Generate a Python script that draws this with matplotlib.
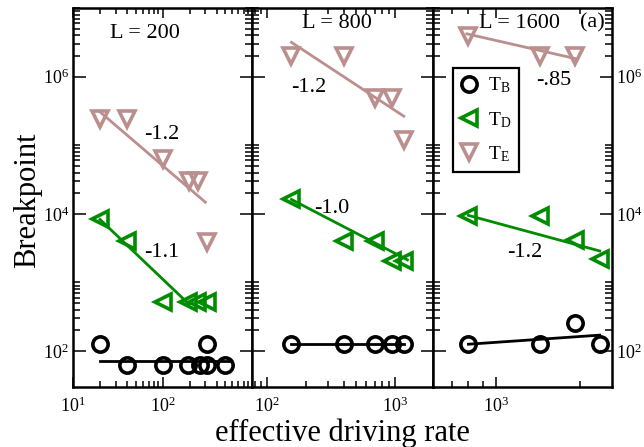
import numpy as np
import matplotlib
matplotlib.use('Agg')
from matplotlib import pyplot as plt, ticker

plt.rcParams['font.family'] = ['Liberation Serif', 'DejaVu Serif']
plt.rcParams['mathtext.fontset'] = 'custom'
plt.rcParams['mathtext.rm'] = 'Liberation Serif'
plt.rcParams['mathtext.it'] = 'Liberation Serif:italic'

# Colours of the three breakpoints
c_B = 'black'
c_D = '#008c00'
c_E = '#bc8f8f'

# ---- L = 200 ----
x200_B = [20, 40, 100, 190, 260, 310, 310, 500]
y200_B = [126, 63, 63, 63, 63, 126, 63, 63]
x200_D = [20, 40, 100, 190, 245, 310]
y200_D = [8500, 4000, 516, 516, 516, 516]
x200_E = [20, 40, 100, 195, 250, 310]
y200_E = [245000, 245000, 64000, 30000, 30000, 3900]
fit200_B = ([20, 580], [72, 72])
fit200_D = ([20, 197], [8300, 483])
fit200_E = ([20, 300], [306000, 14800])

# ---- L = 800 ----
x800 = [155, 400, 700, 960, 1180]
y800_B = [126, 126, 126, 126, 126]
y800_D = [16600, 4000, 4000, 2060, 2060]
y800_E = [1.97e6, 1.97e6, 4.9e5, 4.9e5, 1.21e5]
fit800_B = ([155, 1180], [126, 126])
fit800_D = ([155, 1260], [16200, 2140])
fit800_E = ([155, 1180], [3.16e6, 2.65e5])

# ---- L = 1600 ----
x1600 = [800, 1440, 1920, 2350]
y1600_B = [126, 126, 261, 126]
y1600_D = [9290, 9290, 4160, 2180]
x1600_E = [800, 1440, 1920]
y1600_E = [3.95e6, 1.97e6, 1.97e6]
fit1600_B = ([800, 2350], [126, 171])
fit1600_D = ([800, 2350], [9500, 2880])
fit1600_E = ([790, 1960], [4.2e6, 1.8e6])

xlims = [(10, 995), (76, 2000), (598, 2600)]
ylim = (30, 1e7)

panels = [
    dict(B=(x200_B, y200_B), D=(x200_D, y200_D), E=(x200_E, y200_E),
         fits=(fit200_B, fit200_D, fit200_E), title='L = 200', tx=0.402, ty=0.934,
         notes=[('-1.2', 0.497, 0.665), ('-1.1', 0.497, 0.356)]),
    dict(B=(x800, y800_B), D=(x800, y800_D), E=(x800, y800_E),
         fits=(fit800_B, fit800_D, fit800_E), title='L = 800', tx=0.47, ty=0.96,
         notes=[('-1.2', 0.315, 0.789), ('-1.0', 0.442, 0.472)]),
    dict(B=(x1600, y1600_B), D=(x1600, y1600_D), E=(x1600_E, y1600_E),
         fits=(fit1600_B, fit1600_D, fit1600_E), title='L = 1600', tx=0.486, ty=0.96,
         notes=[('-.85', 0.676, 0.81), ('-1.2', 0.514, 0.356), ('(a)', 0.888, 0.96)]),
]

W, H = 644, 447
fig = plt.figure(figsize=(W / 100, H / 100), dpi=100)

lefts = [73, 252, 433]
rights = [252, 433, 612]
bottom, top = 387, 8

# minor y ticks every two decades, as in the original
ymin_ticks = [k * 10.0 ** e for e in (0, 2, 4, 6) for k in range(2, 11)]

mk = dict(linestyle='none', mfc='none', mew=2.6)
axes = []
for i, p in enumerate(panels):
    ax = fig.add_axes([lefts[i] / W, 1 - bottom / H,
                       (rights[i] - lefts[i]) / W, (bottom - top) / H])
    axes.append(ax)
    ax.set_xscale('log')
    ax.set_yscale('log')

    for (fx, fy), col in zip(p['fits'], (c_B, c_D, c_E)):
        ax.plot(fx, fy, color=col, lw=2.0)
    ax.plot(*p['B'], marker='o', ms=11, mec=c_B, label=r'$\mathrm{T_B}$', **mk)
    ax.plot(*p['D'], marker='<', ms=12, mec=c_D, label=r'$\mathrm{T_D}$', **mk)
    ax.plot(*p['E'], marker='v', ms=12, mec=c_E, label=r'$\mathrm{T_E}$', **mk)

    ax.set_xlim(*xlims[i])
    ax.set_ylim(*ylim)

    ax.xaxis.set_major_locator(ticker.LogLocator(base=10, numticks=20))
    ax.xaxis.set_minor_locator(ticker.LogLocator(base=10, subs=np.arange(2, 10), numticks=20))
    ax.xaxis.set_major_formatter(ticker.LogFormatterMathtext())
    ax.xaxis.set_minor_formatter(ticker.NullFormatter())
    ax.yaxis.set_major_locator(ticker.FixedLocator([1e2, 1e4, 1e6]))
    ax.yaxis.set_minor_locator(ticker.FixedLocator(ymin_ticks))
    ax.yaxis.set_major_formatter(ticker.LogFormatterMathtext())
    ax.yaxis.set_minor_formatter(ticker.NullFormatter())

    ax.tick_params(which='both', direction='in', top=True, right=True, width=1.1,
                   labelsize=13)
    ax.tick_params(axis='x', which='major', length=7, pad=7)
    ax.tick_params(axis='x', which='minor', length=4)
    ax.tick_params(axis='y', which='major', length=9, pad=3)
    ax.tick_params(axis='y', which='minor', length=5)
    ax.tick_params(axis='y', labelleft=(i == 0), labelright=(i == 2))
    for s in ax.spines.values():
        s.set_linewidth(1.8)

    ax.text(p['tx'], p['ty'], p['title'], transform=ax.transAxes,
            ha='center', va='center', fontsize=16)
    for t, x, y in p['notes']:
        ax.text(x, y, t, transform=ax.transAxes, ha='center', va='center', fontsize=16)

leg = axes[2].legend(loc='upper left', bbox_to_anchor=(0.112, 0.842), borderaxespad=0,
                     fancybox=False, edgecolor='black', framealpha=1, fontsize=14,
                     handlelength=0.8, handletextpad=0.6, labelspacing=0.75,
                     borderpad=0.4)
leg.get_frame().set_linewidth(1.6)

fig.text(0.043, 0.553, 'Breakpoint', rotation=90, ha='center', va='center', fontsize=22)
fig.text(0.532, 0.031, 'effective driving rate', ha='center', va='center', fontsize=22)

fig.savefig('out.png', dpi=100)
